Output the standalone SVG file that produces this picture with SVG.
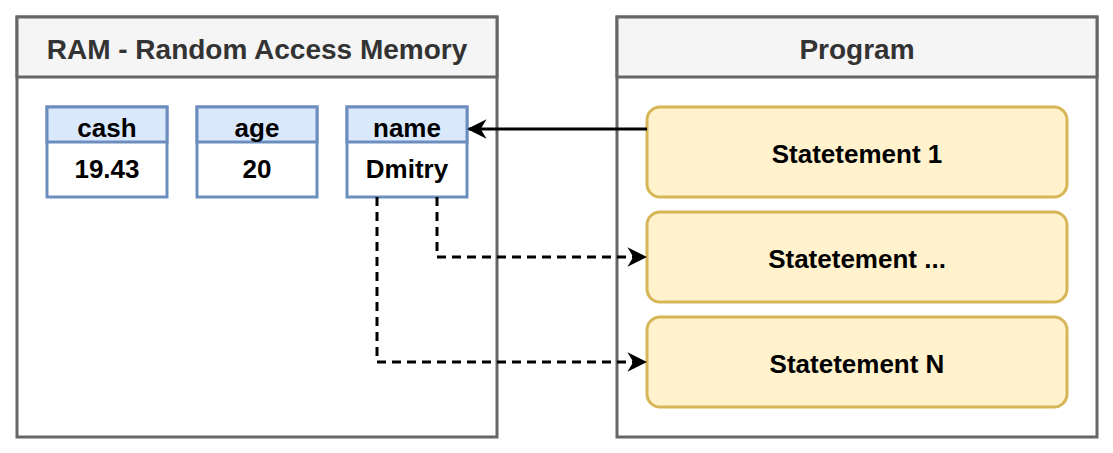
<svg xmlns="http://www.w3.org/2000/svg" width="1113" height="453" viewBox="0 0 1113 453">
<style>
.cont{fill:#fff;stroke:#666;stroke-width:3}
.hdr{fill:#f5f5f5;stroke:#666;stroke-width:3}
.t{font-family:"Liberation Sans",Arial,sans-serif;font-weight:bold;fill:#000;text-anchor:middle}
.h{font-size:28px;fill:#333}
.v{font-size:26px}
.var{fill:#dae8fc;stroke:#6c8ebf;stroke-width:3}
.val{fill:#fff;stroke:#6c8ebf;stroke-width:3}
.st{fill:#fff2cc;stroke:#d6b656;stroke-width:3}
.c{fill:none;stroke:#000;stroke-width:3}
.d{stroke-dasharray:9 6}
</style>
<defs><marker id="a" viewBox="0 0 10 10" refX="9" refY="5" markerWidth="6" markerHeight="6" orient="auto" markerUnits="userSpaceOnUse"><path d="M0,0L10,5L0,10L3,5z" fill="#000"/></marker>
<marker id="m" viewBox="0 0 10 10" refX="9" refY="5" markerWidth="6.5" markerHeight="6.5" orient="auto"><path d="M0,0L10,5L0,10L3,5z" fill="#000"/></marker></defs>
<g id="ram"><rect class="cont" x="17" y="17" width="480" height="420"/><rect class="hdr" x="17" y="17" width="480" height="60"/><text class="t h" x="257" y="59">RAM - Random Access Memory</text></g>
<g id="program"><rect class="cont" x="617" y="17" width="480" height="420"/><rect class="hdr" x="617" y="17" width="480" height="60"/><text class="t h" x="857" y="59">Program</text></g>
<g id="cash"><rect class="val" x="47" y="107" width="120" height="90"/><rect class="var" x="47" y="107" width="120" height="35"/><text class="t v" x="107" y="137">cash</text><text class="t v" x="107" y="178">19.43</text></g>
<g id="age"><rect class="val" x="197" y="107" width="120" height="90"/><rect class="var" x="197" y="107" width="120" height="35"/><text class="t v" x="257" y="137">age</text><text class="t v" x="257" y="178">20</text></g>
<g id="name"><rect class="val" x="347" y="107" width="120" height="90"/><rect class="var" x="347" y="107" width="120" height="35"/><text class="t v" x="407" y="137">name</text><text class="t v" x="407" y="178">Dmitry</text></g>
<g id="s1"><rect class="st" x="647" y="107" width="420" height="90" rx="13"/><text class="t v" x="857" y="163">Statetement 1</text></g>
<g id="s2"><rect class="st" x="647" y="212" width="420" height="90" rx="13"/><text class="t v" x="857" y="268">Statetement ...</text></g>
<g id="s3"><rect class="st" x="647" y="317" width="420" height="90" rx="13"/><text class="t v" x="857" y="373">Statetement N</text></g>
<g id="connectors">
<path class="c" d="M647,129H469" marker-end="url(#m)"/>
<path class="c d" d="M437,197V257H645" marker-end="url(#m)"/>
<path class="c d" d="M377,197V362H645" marker-end="url(#m)"/>
</g>
</svg>
